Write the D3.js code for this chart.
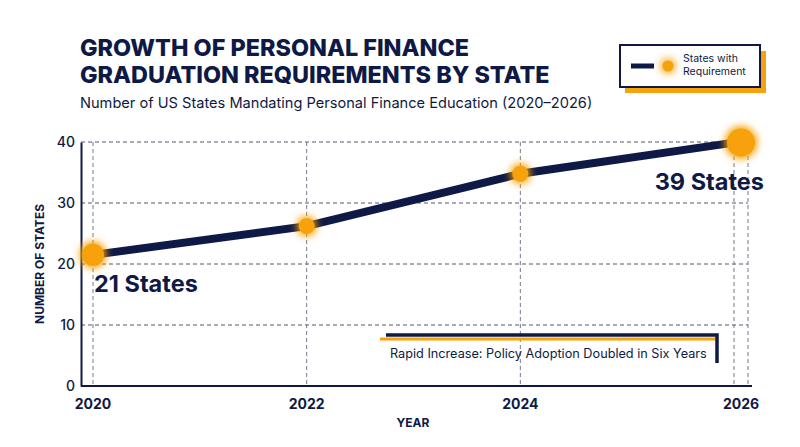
<!DOCTYPE html>
<html><head><meta charset="utf-8">
<script src="https://cdn.jsdelivr.net/npm/d3@7"></script>
<style>body{margin:0;background:#fff}text{font-family:Inter,"Noto Sans",sans-serif}</style>
</head><body><svg id="c" width="800" height="447"></svg>
<script>
const years=[2020,2022,2024,2026];
const states=[21.5,26.2,34.8,39.9];
const yTicks=[0,10,20,30,40];
const navy="#0e1a45",orange="#f7a10c";
const svg=d3.select("#c");
const x=d3.scaleLinear().domain([2020,2026]).range([93,734]);
const y=d3.scaleLinear().domain([0,40]).range([386,142]);
const defs=svg.append("defs");
const f=defs.append("filter").attr("id","glow").attr("x","-100%").attr("y","-100%").attr("width","300%").attr("height","300%");
f.append("feGaussianBlur").attr("stdDeviation",5).attr("result","b");
const m=f.append("feMerge");m.append("feMergeNode").attr("in","b");m.append("feMergeNode").attr("in","b");m.append("feMergeNode").attr("in","SourceGraphic");
// title
svg.append("text").attr("x",80).attr("y",56).attr("font-size",23.4).attr("font-weight",800).attr("fill",navy).text("GROWTH OF PERSONAL FINANCE");
svg.append("text").attr("x",80).attr("y",83).attr("font-size",23.4).attr("font-weight",800).attr("fill",navy).text("GRADUATION REQUIREMENTS BY STATE");
svg.append("text").attr("x",80).attr("y",108).attr("font-size",14.6).attr("fill",navy).text("Number of US States Mandating Personal Finance Education (2020–2026)");
// legend
svg.append("rect").attr("x",625).attr("y",51).attr("width",141).attr("height",42).attr("fill",orange);
svg.append("rect").attr("x",620).attr("y",45).attr("width",140).attr("height",42).attr("fill","#fff").attr("stroke",navy).attr("stroke-width",2);
svg.append("line").attr("x1",631).attr("x2",654).attr("y1",66).attr("y2",66).attr("stroke",navy).attr("stroke-width",5);
svg.append("circle").attr("cx",668).attr("cy",66).attr("r",5.5).attr("fill",orange).attr("filter","url(#glow)");
svg.append("text").attr("x",683).attr("y",62).attr("font-size",10.5).attr("fill",navy).text("States with");
svg.append("text").attr("x",683).attr("y",75).attr("font-size",10.5).attr("fill",navy).text("Requirement");
// grid
const g=svg.append("g");
g.selectAll(".h").data(yTicks.filter(d=>d>0)).join("line").attr("x1",81).attr("x2",748).attr("y1",d=>y(d)).attr("y2",d=>y(d)).attr("stroke","#555a70").attr("stroke-dasharray","4,3").attr("stroke-width",1);
g.selectAll(".v").data(years).join("line").attr("x1",d=>x(d)).attr("x2",d=>x(d)).attr("y1",142).attr("y2",386).attr("stroke","#777b8c").attr("stroke-dasharray","4,3");
g.append("line").attr("x1",748).attr("x2",748).attr("y1",142).attr("y2",386).attr("stroke","#777b8c").attr("stroke-dasharray","4,3");
// axes
const ya=svg.append("g").attr("transform","translate(81,0)").call(d3.axisLeft(y).tickValues(yTicks).tickSize(0).tickPadding(6));
ya.select(".domain").attr("stroke",navy).attr("stroke-width",2);
ya.selectAll("text").attr("font-size",14).attr("fill",navy).attr("font-weight",500);
svg.append("line").attr("x1",81).attr("x2",752).attr("y1",386).attr("y2",386).attr("stroke",navy).attr("stroke-width",2);
svg.selectAll(".xt").data(years).join("text").attr("x",d=>d===2026?741:x(d)).attr("y",409).attr("text-anchor","middle").attr("font-size",14).attr("font-weight",700).attr("fill",navy).text(d=>d);
svg.append("text").attr("x",413).attr("y",427).attr("text-anchor","middle").attr("font-size",12).attr("font-weight",700).attr("fill",navy).text("YEAR");
svg.append("text").attr("transform","translate(44,264) rotate(-90)").attr("text-anchor","middle").attr("font-size",12).attr("font-weight",700).attr("fill",navy).text("NUMBER OF STATES");
// annotation
svg.append("line").attr("x1",380).attr("x2",715).attr("y1",339).attr("y2",339).attr("stroke",orange).attr("stroke-width",3);
svg.append("path").attr("d","M386,335H717V363").attr("fill","none").attr("stroke",navy).attr("stroke-width",3.5);
svg.append("text").attr("x",390).attr("y",358).attr("font-size",12.7).attr("fill",navy).text("Rapid Increase: Policy Adoption Doubled in Six Years");
// line
svg.append("path").datum(years.map((d,i)=>[d,states[i]])).attr("d",d3.line().x(d=>x(d[0])).y(d=>y(d[1]))).attr("fill","none").attr("stroke",navy).attr("stroke-width",8);
svg.selectAll(".pt").data(years.map((d,i)=>[d,states[i],i])).join("circle").attr("cx",d=>d[2]===3?741:x(d[0])).attr("cy",d=>y(d[1])).attr("r",d=>d[2]===3?14:d[2]===0?11:8).attr("fill",orange).attr("filter","url(#glow)");
svg.append("text").attr("x",94).attr("y",292).attr("font-size",23.5).attr("font-weight",700).attr("fill",navy).text("21 States");
svg.append("text").attr("x",764).attr("y",190).attr("text-anchor","end").attr("font-size",23.5).attr("font-weight",700).attr("fill",navy).text("39 States");
</script></body></html>
